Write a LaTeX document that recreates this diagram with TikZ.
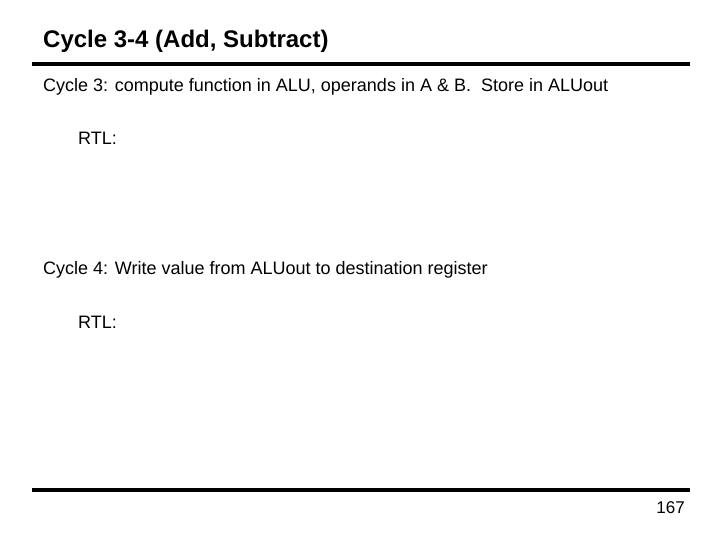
\documentclass[tikz,border=0pt]{standalone}
\usepackage{fontspec}
\setmainfont{Liberation Sans}
\begin{document}
\begin{tikzpicture}[x=1pt,y=-1pt,
  body/.style={anchor=base west,inner sep=0pt,font=\fontsize{18}{20}\selectfont},
  rule/.style={line width=4.5pt}]
\useasboundingbox (0,0) rectangle (720,540);
\node[anchor=base west,inner sep=0pt,font=\fontsize{24}{27}\selectfont\bfseries] (title) at (43,48) {Cycle 3-4 (Add, Subtract)};
\coordinate (l1a) at (32,64); \coordinate (l1b) at (690,64);
\draw[rule] (l1a) -- (l1b);
\node[body] (c3) at (43,92) {Cycle 3: compute function in ALU, operands in A \& B.\ \ Store in ALUout};
\node[body] (r1) at (78,145) {RTL:};
\node[body] (c4) at (43,274) {Cycle 4: Write value from ALUout to destination register};
\node[body] (r2) at (78,328) {RTL:};
\coordinate (l2a) at (32,490); \coordinate (l2b) at (690,490);
\draw[rule] (l2a) -- (l2b);
\node[anchor=base east,inner sep=0pt,font=\fontsize{17}{19}\selectfont] (pg) at (685,513) {167};
\end{tikzpicture}
\end{document}
